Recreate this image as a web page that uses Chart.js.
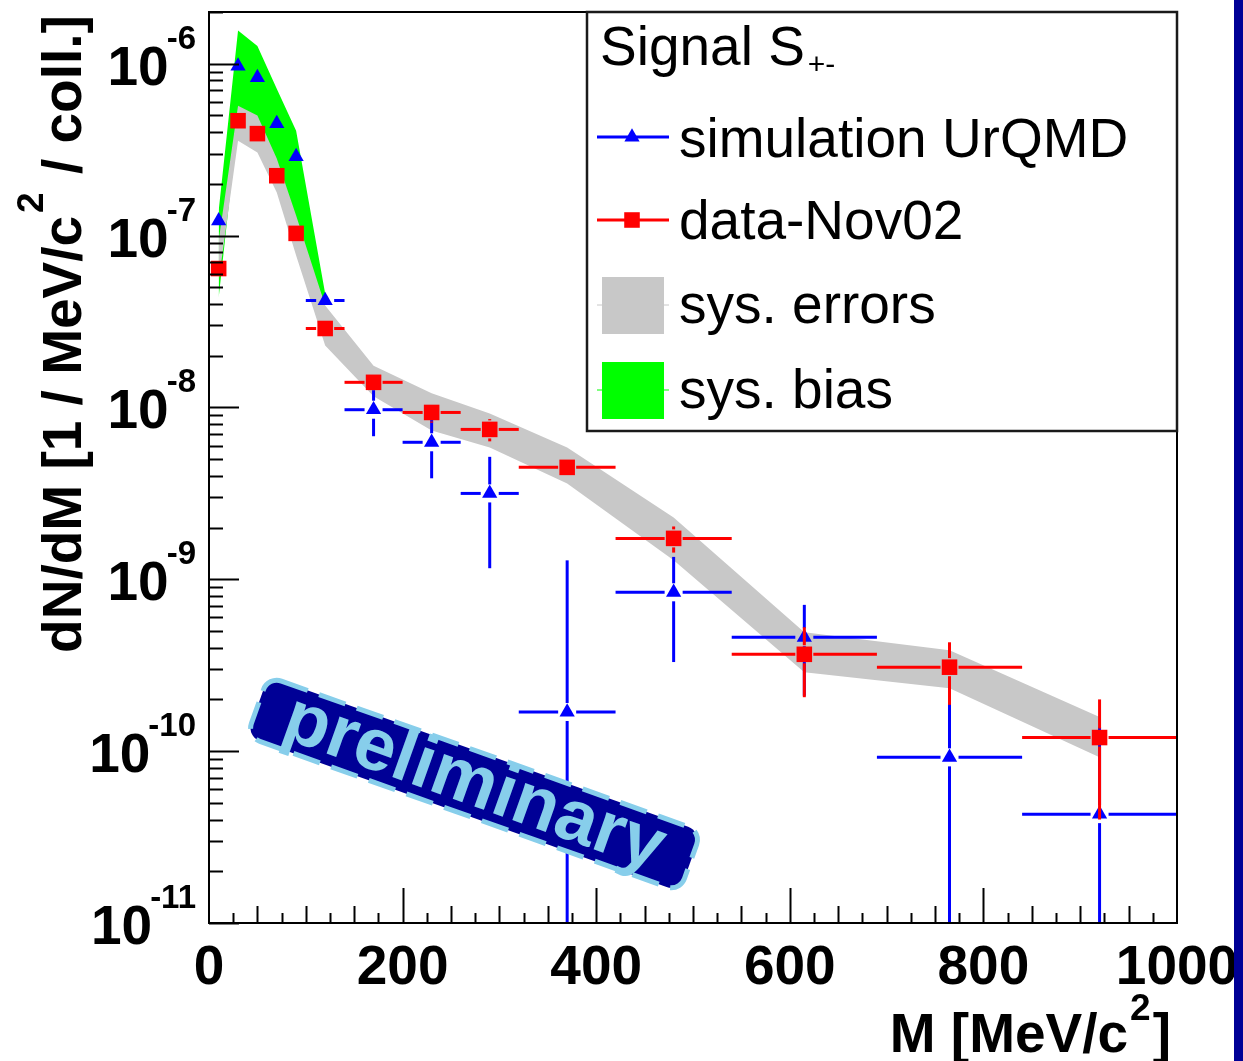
<!DOCTYPE html>
<html>
<head>
<meta charset="utf-8">
<title>Signal S+- invariant mass spectrum</title>
<script src="https://cdn.jsdelivr.net/npm/chart.js@4.4.1/dist/chart.umd.min.js"></script>
<style>
  html, body { margin: 0; padding: 0; background: #ffffff; overflow: hidden; }
  #wrap { position: relative; width: 1243px; height: 1061px; background: #ffffff; }
  #wrap canvas { position: absolute; left: 0; top: 0; }
  #edge { position: absolute; left: 1234px; top: 0; width: 9px; height: 1061px; background: #000096; }
</style>
</head>
<body>
<div id="wrap">
  <canvas id="c" width="1243" height="1061"></canvas>
  <div id="edge"></div>
</div>
<script>
// ---- measured spectrum: dN/dM per collision versus pair mass M (MeV/c^2) ----
const massBins      = [10, 30, 50, 70, 90, 120, 170, 230, 290, 370, 480, 615, 765, 920];
const massHalfWidth = [0, 0, 0, 0, 0, 20, 30, 30, 30, 50, 60, 75, 75, 80];

// simulation UrQMD
const simValues = [1.22e-7, 9.7e-7, 8.3e-7, 4.48e-7, 2.88e-7, 4.19e-8, 9.7e-9, 6.27e-9, 3.16e-9, 1.69e-10, 8.4e-10, 4.6e-10, 9.2e-11, 4.3e-11];
const simErrors = [0, 0, 0, 0, 0, 3e-9, 2.9e-9, 2.4e-9, 2.0e-9, 1.12e-9, 5.1e-10, 2.5e-10, 1.1e-10, 9.5e-11];

// data-Nov02
const dataValues = [6.43e-8, 4.66e-7, 3.92e-7, 2.23e-7, 1.03e-7, 2.88e-8, 1.40e-8, 9.35e-9, 7.45e-9, 4.48e-9, 1.73e-9, 3.66e-10, 3.08e-10, 1.2e-10];
const dataErrors = [0, 0, 0, 0, 0, 1.5e-9, 1.0e-9, 1.2e-9, 1.1e-9, 4e-10, 3e-10, 1.6e-10, 1.22e-10, 8e-11];

// sys. errors band around the data
const sysHigh = [9.35e-8, 5.70e-7, 4.99e-7, 2.81e-7, 1.31e-7, 3.92e-8, 1.75e-8, 1.21e-8, 9.23e-9, 5.85e-9, 2.29e-9, 4.92e-10, 3.87e-10, 1.58e-10];
const sysLow  = [5.47e-8, 3.56e-7, 3.04e-7, 1.78e-7, 7.66e-8, 2.29e-8, 1.16e-8, 7.35e-9, 5.85e-9, 3.61e-9, 1.29e-9, 2.88e-10, 2.32e-10, 9.23e-11];

// sys. bias band around the simulation (low-mass region only)
const biasMass = [10, 30, 50, 70, 90, 120];
const biasHigh = [1.40e-7, 1.56e-6, 1.27e-6, 7.16e-7, 4.07e-7, 4.6e-8];
const biasLow  = [4.36e-8, 4.66e-7, 4.07e-7, 2.39e-7, 1.14e-7, 3.92e-8];

// axis tick labels
const xTickValues = [0, 200, 400, 600, 800, 1000];
const xTickLabels = ['0', '200', '400', '600', '800', '1000'];
const yDecades    = [-6, -7, -8, -9, -10, -11];

// legend entries
const legendHeader = 'Signal S';
const legendHeaderSub = '+-';
const legendLabels = ['simulation UrQMD', 'data-Nov02', 'sys. errors', 'sys. bias'];

// ---- styling ----
const BLUE = '#0000ff', RED = '#ff0000', GREY = '#c8c8c8', GREEN = '#00ff00';
const NAVY = '#000096', SKY = '#87ceeb';
const FONT = '"Liberation Sans", Arial, Helvetica, sans-serif';
const GAP = 9;           // error bars stop short of the marker
const TRI_R = 8.8;       // triangle marker radius
const SQ_R = 11;         // square marker radius (side = r * sqrt2)

const pts = (xs, ys) => xs.map((m, i) => ({ x: m, y: ys[i] }));

// error bars are drawn right before the markers of their series
const errorBars = {
  id: 'errorBars',
  beforeDatasetDraw(chart, args) {
    const ds = chart.data.datasets[args.index];
    if (!ds.errInfo) return;
    const { ctx, chartArea, scales } = chart;
    const xs = scales.x, ys = scales.y;
    const info = ds.errInfo;
    ctx.save();
    ctx.beginPath();
    ctx.rect(chartArea.left, chartArea.top, chartArea.right - chartArea.left, chartArea.bottom - chartArea.top);
    ctx.clip();
    ctx.strokeStyle = info.color;
    ctx.lineWidth = 3;
    ctx.lineCap = 'butt';
    const seg = (x1, y1, x2, y2) => { ctx.beginPath(); ctx.moveTo(x1, y1); ctx.lineTo(x2, y2); ctx.stroke(); };
    info.x.forEach((m, i) => {
      const v = info.y[i];
      const px = xs.getPixelForValue(m), py = ys.getPixelForValue(v);
      const ex = info.xe[i], ey = info.ye[i];
      if (ex > 0) {
        const l = xs.getPixelForValue(m - ex), r = xs.getPixelForValue(m + ex);
        if (px - l > GAP) seg(l, py, px - GAP, py);
        if (r - px > GAP) seg(px + GAP, py, r, py);
      }
      if (ey > 0) {
        const top = ys.getPixelForValue(v + ey);
        const bot = (v - ey) > 0 ? ys.getPixelForValue(v - ey) : chartArea.bottom + 10;
        if (py - top > GAP) seg(px, top, px, py - GAP);
        if (bot - py > GAP) seg(px, py + GAP, px, bot);
      }
    });
    ctx.restore();
  }
};

function drawTriangle(ctx, x, y, r) {
  ctx.beginPath();
  ctx.moveTo(x, y - r);
  ctx.lineTo(x + r * Math.sin(Math.PI / 3), y + r / 2);
  ctx.lineTo(x - r * Math.sin(Math.PI / 3), y + r / 2);
  ctx.closePath();
  ctx.fill();
}

function roundRect(ctx, x, y, w, h, r) {
  ctx.beginPath();
  ctx.moveTo(x + r, y);
  ctx.lineTo(x + w - r, y);
  ctx.arcTo(x + w, y, x + w, y + r, r);
  ctx.lineTo(x + w, y + h - r);
  ctx.arcTo(x + w, y + h, x + w - r, y + h, r);
  ctx.lineTo(x + r, y + h);
  ctx.arcTo(x, y + h, x, y + h - r, r);
  ctx.lineTo(x, y + r);
  ctx.arcTo(x, y, x + r, y, r);
  ctx.closePath();
}

// frame, inner ticks, tick labels, titles, legend and the stamp
const decorations = {
  id: 'decorations',
  afterDraw(chart) {
    const { ctx, chartArea: a, scales } = chart;
    const xs = scales.x, ys = scales.y;
    ctx.save();

    // frame
    ctx.strokeStyle = '#000';
    ctx.lineWidth = 2;
    ctx.strokeRect(a.left, a.top, a.right - a.left, a.bottom - a.top);

    // x ticks: long every 200, medium every 50, short every 25
    ctx.lineWidth = 2;
    for (let v = 25; v < 1000; v += 25) {
      const len = v % 200 === 0 ? 35 : (v % 50 === 0 ? 17 : 10);
      const px = Math.round(xs.getPixelForValue(v)) + 0.5;
      ctx.beginPath(); ctx.moveTo(px, a.bottom); ctx.lineTo(px, a.bottom - len); ctx.stroke();
    }
    // y ticks: decades and 2..9 subdivisions
    for (let d = -11; d <= -6; d++) {
      for (let k = 1; k <= 9; k++) {
        const v = k * Math.pow(10, d);
        if (v > ys.max * 1.0001) continue;
        const len = k === 1 ? 30 : 14;
        const py = Math.round(ys.getPixelForValue(v)) + 0.5;
        ctx.beginPath(); ctx.moveTo(a.left, py); ctx.lineTo(a.left + len, py); ctx.stroke();
      }
    }

    ctx.fillStyle = '#000';
    // x tick labels
    ctx.font = 'bold 55px ' + FONT;
    ctx.textAlign = 'center';
    ctx.textBaseline = 'alphabetic';
    xTickValues.forEach((v, i) => {
      ctx.fillText(xTickLabels[i], xs.getPixelForValue(v), a.bottom + 61);
    });

    // y tick labels 10^d
    yDecades.forEach(d => {
      const py = ys.getPixelForValue(Math.pow(10, d));
      const exp = String(d);
      ctx.textAlign = 'right';
      ctx.font = 'bold 33px ' + FONT;
      const ew = ctx.measureText(exp).width;
      ctx.fillText(exp, 196, py - 15);
      ctx.font = 'bold 55px ' + FONT;
      ctx.fillText('10', 196 - ew + 2, py + 21);
    });

    // x title: M [MeV/c^2]
    ctx.textAlign = 'left';
    ctx.font = 'bold 55px ' + FONT;
    const xt1 = 'M [MeV/c', xt3 = ']';
    const w1 = ctx.measureText(xt1).width, w3 = ctx.measureText(xt3).width;
    ctx.font = 'bold 37px ' + FONT;
    const w2 = ctx.measureText('2').width + 4;
    let sx = 1171 - (w1 + w2 + w3);
    ctx.font = 'bold 55px ' + FONT;
    ctx.fillText(xt1, sx, 1052);
    ctx.font = 'bold 37px ' + FONT;
    ctx.fillText('2', sx + w1 + 2, 1020);
    ctx.font = 'bold 55px ' + FONT;
    ctx.fillText(xt3, sx + w1 + w2, 1052);

    // y title: dN/dM [1 / MeV/c^2 / coll.]
    ctx.save();
    ctx.font = 'bold 55px ' + FONT;
    const yt1 = 'dN/dM [1 / MeV/c', yt3 = ' / coll.]';
    const yw1 = ctx.measureText(yt1).width, yw3 = ctx.measureText(yt3).width;
    ctx.font = 'bold 37px ' + FONT;
    const yw2 = ctx.measureText('2').width + 6;
    const total = yw1 + yw2 + yw3;
    ctx.translate(81, 334 + total / 2);
    ctx.rotate(-Math.PI / 2);
    ctx.textAlign = 'left';
    ctx.font = 'bold 55px ' + FONT;
    ctx.fillText(yt1, 0, 0);
    ctx.font = 'bold 37px ' + FONT;
    ctx.fillText('2', yw1 + 3, -38);
    ctx.font = 'bold 55px ' + FONT;
    ctx.fillText(yt3, yw1 + yw2, 0);
    ctx.restore();

    // legend
    const L = 587, T = 12, R = 1177, B = 431;
    ctx.fillStyle = '#fff';
    ctx.fillRect(L, T, R - L, B - T);
    ctx.strokeStyle = '#1a1a1a';
    ctx.lineWidth = 2.5;
    ctx.strokeRect(L, T, R - L, B - T);
    ctx.fillStyle = '#000';
    ctx.textAlign = 'left';
    ctx.font = '55px ' + FONT;
    ctx.fillText(legendHeader, 600, 65);
    const hw = ctx.measureText(legendHeader).width;
    ctx.font = '30px ' + FONT;
    ctx.fillText(legendHeaderSub, 600 + hw + 3, 74);

    const rowY = [137, 220, 305, 390];
    const baseY = [157, 239, 323, 408];
    // simulation entry
    ctx.strokeStyle = BLUE; ctx.lineWidth = 3;
    ctx.beginPath(); ctx.moveTo(597, rowY[0]); ctx.lineTo(669, rowY[0]); ctx.stroke();
    ctx.fillStyle = BLUE; drawTriangle(ctx, 632, rowY[0], TRI_R);
    // data entry
    ctx.strokeStyle = RED;
    ctx.beginPath(); ctx.moveTo(597, rowY[1]); ctx.lineTo(669, rowY[1]); ctx.stroke();
    ctx.fillStyle = RED;
    const sq = SQ_R * Math.SQRT1_2;
    ctx.fillRect(632 - sq, rowY[1] - sq, 2 * sq, 2 * sq);
    // band entries
    ctx.lineWidth = 1;
    ctx.strokeStyle = GREY;
    ctx.beginPath(); ctx.moveTo(597, rowY[2]); ctx.lineTo(669, rowY[2]); ctx.stroke();
    ctx.fillStyle = GREY; ctx.fillRect(602, rowY[2] - 28, 62, 57);
    ctx.strokeStyle = GREEN;
    ctx.beginPath(); ctx.moveTo(597, rowY[3]); ctx.lineTo(669, rowY[3]); ctx.stroke();
    ctx.fillStyle = GREEN; ctx.fillRect(602, rowY[3] - 28, 62, 57);

    ctx.fillStyle = '#000';
    ctx.font = '55px ' + FONT;
    legendLabels.forEach((t, i) => ctx.fillText(t, 679, baseY[i]));

    // "preliminary" stamp
    ctx.save();
    ctx.translate(474, 784);
    ctx.rotate(19.7 * Math.PI / 180);
    roundRect(ctx, -230, -32, 460, 64, 14);
    ctx.fillStyle = NAVY;
    ctx.fill();
    ctx.setLineDash([28, 12]);
    ctx.lineWidth = 5;
    ctx.strokeStyle = SKY;
    ctx.stroke();
    ctx.setLineDash([]);
    ctx.fillStyle = SKY;
    ctx.font = 'bold 74px ' + FONT;
    ctx.textAlign = 'center';
    ctx.fillText('preliminary', 0, 21);
    ctx.restore();

    ctx.restore();
  }
};

new Chart(document.getElementById('c'), {
  data: {
    datasets: [
      {
        type: 'scatter', label: 'data-Nov02', order: 0,
        data: pts(massBins, dataValues),
        pointStyle: 'rect', pointRadius: SQ_R, pointBackgroundColor: RED, pointBorderWidth: 0,
        errInfo: { x: massBins, y: dataValues, xe: massHalfWidth, ye: dataErrors, color: RED }
      },
      {
        type: 'scatter', label: 'simulation UrQMD', order: 2,
        data: pts(massBins, simValues),
        pointStyle: 'triangle', pointRadius: TRI_R, pointBackgroundColor: BLUE, pointBorderWidth: 0,
        errInfo: { x: massBins, y: simValues, xe: massHalfWidth, ye: simErrors, color: BLUE }
      },
      {
        type: 'line', label: 'sys. errors', order: 4,
        data: pts(massBins, sysHigh), fill: '+1', backgroundColor: GREY,
        borderWidth: 0, borderColor: 'rgba(0,0,0,0)', pointRadius: 0, tension: 0
      },
      {
        type: 'line', label: 'sys. errors low', order: 4,
        data: pts(massBins, sysLow), fill: false,
        borderWidth: 0, borderColor: 'rgba(0,0,0,0)', pointRadius: 0, tension: 0
      },
      {
        type: 'line', label: 'sys. bias', order: 6,
        data: pts(biasMass, biasHigh), fill: '+1', backgroundColor: GREEN,
        borderWidth: 0, borderColor: 'rgba(0,0,0,0)', pointRadius: 0, tension: 0
      },
      {
        type: 'line', label: 'sys. bias low', order: 6,
        data: pts(biasMass, biasLow), fill: false,
        borderWidth: 0, borderColor: 'rgba(0,0,0,0)', pointRadius: 0, tension: 0
      }
    ]
  },
  options: {
    responsive: false,
    devicePixelRatio: 1,
    animation: false,
    layout: { padding: { left: 209, right: 66, top: 12, bottom: 138 } },
    scales: {
      x: { type: 'linear', min: 0, max: 1000, display: false },
      y: { type: 'logarithmic', min: 1e-11, max: 2e-6, display: false }
    },
    plugins: {
      legend: { display: false },
      tooltip: { enabled: false },
      title: { display: false }
    },
    events: []
  },
  plugins: [errorBars, decorations]
});
</script>
</body>
</html>
